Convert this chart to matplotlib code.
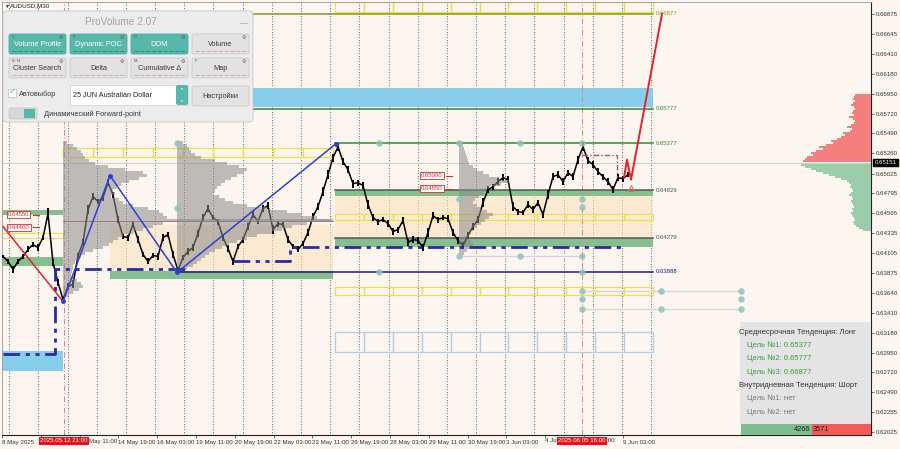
import numpy as np
import matplotlib.pyplot as plt
from matplotlib.patches import FancyBboxPatch, Rectangle
from matplotlib.transforms import blended_transform_factory

plt.rcParams['font.family'] = ['Liberation Sans', 'DejaVu Sans']

# котировки AUDUSD M30 (шаг 5 единиц по оси времени)
price = [0.64064, 0.64006, 0.63913, 0.64006, 0.64064, 0.64145, 0.64202, 0.64168, 0.64283, 0.64561,
         0.63994, 0.63763, 0.63566, 0.63716, 0.63740, 0.64075, 0.64226, 0.64607, 0.64758, 0.64700,
         0.64746, 0.64920, 0.64781, 0.64492, 0.64295, 0.64283, 0.64434, 0.64260, 0.64087, 0.64006,
         0.64075, 0.64064, 0.64283, 0.64318, 0.64087, 0.63902, 0.64052, 0.64121, 0.64168, 0.64330,
         0.64515, 0.64619, 0.64515, 0.64469, 0.64283, 0.64156, 0.64006, 0.64179, 0.64260, 0.64411,
         0.64549, 0.64469, 0.64619, 0.64654, 0.64376, 0.64445, 0.64434, 0.64260, 0.64179, 0.64145,
         0.64214, 0.64341, 0.64526, 0.64642, 0.64816, 0.65012, 0.65209, 0.65336, 0.65163, 0.65070,
         0.64908, 0.64920, 0.64885, 0.64665, 0.64515, 0.64469, 0.64492, 0.64445, 0.64353, 0.64376,
         0.64480, 0.64226, 0.64260, 0.64249, 0.64168, 0.64341, 0.64538, 0.64492, 0.64515, 0.64503,
         0.64341, 0.64249, 0.64191, 0.64307, 0.64411, 0.64492, 0.64688, 0.64839, 0.64873, 0.64931,
         0.64978, 0.64954, 0.64642, 0.64584, 0.64573, 0.64665, 0.64607, 0.64688, 0.64549, 0.64781,
         0.64989, 0.65012, 0.64931, 0.65035, 0.64989, 0.65186, 0.65336, 0.65174, 0.65128, 0.65047,
         0.64989, 0.64931, 0.64839, 0.64978, 0.64966, 0.65012]
# размах свечей в пунктах (1e-5)
bar_range = [45, 60, 90, 55, 50, 70, 60, 75, 55, 140, 80, 90, 70, 85, 95, 60, 70, 110, 80, 65,
             75, 90, 70, 85, 60, 70, 65, 80, 55, 70, 60, 75, 80, 65, 90, 70, 60, 75, 80, 70,
             85, 75, 60, 70, 80, 75, 90, 65, 70, 80, 75, 65, 80, 85, 95, 70, 65, 75, 60, 70,
             65, 80, 90, 85, 100, 110, 95, 90, 85, 80, 95, 70, 75, 100, 80, 70, 65, 75, 80, 70,
             85, 90, 75, 70, 80, 95, 75, 70, 65, 80, 75, 70, 80, 85, 75, 90, 100, 80, 70, 75,
             80, 85, 110, 70, 65, 80, 75, 70, 90, 100, 80, 75, 85, 70, 80, 95, 110, 85, 75, 80,
             70, 85, 90, 75, 70, 60]
last_price = 0.65151

zigzag_x = [63, 110, 177, 336]
zigzag_p = [0.63543, 0.65001, 0.63878, 0.65371]
downtrend_x = [3, 63]
downtrend_p = [0.64411, 0.63543]
forecast_x = [624, 627, 631, 662]
forecast_p = [0.64978, 0.65186, 0.64954, 0.66877]

level_p = [0.66877, 0.65777, 0.65377, 0.64829, 0.64279, 0.63888]
level_txt = ['0.66877', '0.65777', '0.65377', '0.64829', '0.64279', '0.63888']
level_col = ['#7d9a1e', '#2f8a2f', '#2f8a2f', '#555555', '#555555', '#1d1d78']

# профили объёма (от 0.65382 вниз)
prof1 = [4, 10, 14, 18, 20, 22, 26, 32, 45, 62, 80, 84, 76, 66, 58, 54, 50, 52, 48, 56,
         60, 70, 85, 96, 100, 104, 268, 100, 90, 80, 70, 60, 55, 50, 46, 40, 30, 22, 18, 15,
         12, 10, 10, 9, 8, 10, 14, 18, 20, 16, 10, 6]
prof2 = [6, 10, 12, 14, 18, 24, 38, 50, 62, 70, 66, 60, 54, 48, 44, 40, 38, 36, 42, 48,
         56, 70, 90, 110, 125, 140, 156, 130, 115, 105, 95, 80, 70, 60, 52, 45, 38, 32, 28, 24,
         20, 16, 10]
prof3 = [3, 4, 5, 6, 7, 8, 9, 10, 14, 18, 24, 30, 40, 50, 42, 30, 26, 24, 20, 16,
         14, 18, 22, 28, 34, 30, 26, 22, 18, 14, 12, 10, 10, 12, 14, 12, 8, 5]
prof_top = 0.65382

# стакан (DOM) справа
dom_sell = [16, 17, 18, 16, 18, 20, 17, 16, 18, 19, 17, 22, 18, 16, 17, 20, 24, 19, 21, 28,
            26, 30, 34, 40, 38, 45, 52, 48, 55, 60, 58, 64, 66, 68]
dom_buy = [70, 66, 60, 55, 48, 42, 36, 30, 24, 22, 20, 21, 19, 18, 20, 22, 19, 18, 20, 19,
           18, 17, 19, 18, 20, 19, 18, 17, 16, 18, 17, 15, 12, 8]
dom_sell_top = 0.65938
dom_buy_top = 0.65151
buy_total, sell_total = 4266, 3571

dots_x = [177, 177, 379, 459, 520, 582, 459, 582, 582, 459, 520, 582, 379, 582,
          582, 582, 582, 661, 661, 741, 741, 741]
dots_p = [0.65382, 0.64630, 0.65382, 0.65382, 0.65382, 0.65382, 0.64735, 0.64735, 0.64642,
          0.64075, 0.64075, 0.64075, 0.63878, 0.63878, 0.63659, 0.63566, 0.63450, 0.63659,
          0.63450, 0.63659, 0.63566, 0.63450]

poc1_x = [3, 55, 55, 188]
poc1_p = [0.62930, 0.62930, 0.63913, 0.63913]
poc2_x = [233, 290, 290, 625]
poc2_p = [0.64006, 0.64006, 0.64168, 0.64168]

tags_x = [8, 8, 421, 421]
tags_p = [0.64550, 0.64400, 0.65000, 0.64850]

yticks = [0.66875, 0.66645, 0.66410, 0.66180, 0.65950, 0.65720, 0.65490, 0.65260, 0.65025,
          0.64795, 0.64565, 0.64335, 0.64105, 0.63875, 0.63640, 0.63410, 0.63180, 0.62950,
          0.62720, 0.62490, 0.62255, 0.62025]
# подписи времени; частично закрытые красными метками показаны обрывками
xlabels = ['8 May 2025', '', '', '14 May 19:00', '16 May 03:00',
           '19 May 11:00', '20 May 19:00', '22 May 03:00', '23 May 11:00', '26 May 19:00',
           '28 May 03:00', '29 May 11:00', '30 May 19:00', '3 Jun 03:00', '',
           '', '9 Jun 03:00']
xfragments = [('May 11:00', 89), ('4 Ju', 545), (':00', 606)]

BG = '#fdf6f0'
fig = plt.figure(figsize=(9, 4.49), dpi=100, facecolor=BG)
ax = fig.add_axes([2 / 900, 14 / 449, 869 / 900, 433 / 449])
ax.set_facecolor(BG)
ax.set_xlim(2, 871)
ax.set_ylim(0.61994, 0.67014)

# сетка по времени
for gx in 9.3 + 29.17 * np.arange(23):
    ax.axvline(gx, color='#333333', lw=0.6, ls=(0, (1, 2.2)), zorder=1)

def box(x0, x1, lo, hi, fc='none', ec='none', alpha=1.0, z=2, lw=0.8):
    ax.add_patch(Rectangle((x0, lo), x1 - x0, hi - lo, fc=fc, ec=ec, alpha=alpha, lw=lw, zorder=z))

GREEN = '#86bf8f'
TAN = '#fbe3bd'
SKY = '#87ceeb'
YEL = '#ece04a'

# зоны
box(335, 653, 0.64769, 0.64839, fc=GREEN, z=2)
box(335, 653, 0.64179, 0.64283, fc=GREEN, z=2)
box(335, 653, 0.64283, 0.64769, fc=TAN, alpha=0.6, z=1.5)
box(110, 333, 0.63797, 0.63890, fc=GREEN, z=2)
box(110, 333, 0.63890, 0.64434, fc=TAN, alpha=0.6, z=1.5)
box(2, 63, 0.64549, 0.64607, fc=GREEN, z=2)
box(2, 63, 0.63948, 0.64052, fc=GREEN, z=2)
box(2, 63, 0.64283, 0.64341, ec=YEL, z=2)
box(63, 653, 0.65799, 0.66019, fc=SKY, z=2)
box(2, 63, 0.62733, 0.62964, fc=SKY, z=2)

def cells(x0, x1, n, lo, hi, col):
    edges = np.linspace(x0, x1, n + 1)
    for a, b in zip(edges[:-1], edges[1:]):
        box(a, b, lo, hi, ec=col, z=2.5, lw=0.9)

cells(63, 333, 9, 0.65221, 0.65325, YEL)
cells(335, 653, 11, 0.64492, 0.64561, YEL)
cells(335, 653, 11, 0.66898, 0.67014, YEL)
cells(335, 653, 11, 0.63613, 0.63705, YEL)
cells(335, 653, 11, 0.62953, 0.63184, '#a9d2e4')

# уровни
level_x0 = [63, 63, 335, 335, 335, 177]
for x0, p, t, c in zip(level_x0, level_p, level_txt, level_col):
    ax.plot([x0, 653], [p, p], color=c, lw=1.1, zorder=3)
    ax.text(656, p, t, color=c, fontsize=4.3, va='center', ha='left', zorder=6)

ax.axhline(last_price, color='#c9c9c9', lw=0.6, zorder=1)
ax.plot([63, 333], [0.64470, 0.64470], color='#c04848', lw=0.6, zorder=3)
ax.plot([459, 582], [0.64075, 0.64075], color='#d6d6d6', lw=1, zorder=2)
ax.plot([582, 741], [0.63659, 0.63659], color='#d6d6d6', lw=1, zorder=2)
ax.plot([582, 741], [0.63450, 0.63450], color='#d6d6d6', lw=1, zorder=2)

for vx in [64, 582]:
    ax.axvline(vx, color='#d98a8a', lw=0.8, ls=(0, (5, 2, 1, 2)), zorder=2)

# цена
px = 3 + 5 * np.arange(len(price))
pr = np.array(price)
half = np.array(bar_range) * 1e-5 / 2
ax.plot(px, pr, color='black', lw=1.1, zorder=3.5)
ax.vlines(px, pr - half, pr + half, color='black', lw=1.4, zorder=3.5)

# профили
step = 0.000347
for anchor, prof in [(63, prof1), (177, prof2), (459, prof3)]:
    lv = prof_top - step * np.arange(len(prof))
    ax.barh(lv, prof, left=anchor, height=step, color='#8a8a8a', alpha=0.55, lw=0, zorder=4)

# стакан
dstep = 0.000231
lv = dom_sell_top - dstep * np.arange(len(dom_sell))
ax.barh(lv, -np.array(dom_sell), left=871, height=dstep, color='#f47f7f', lw=0, zorder=4)
lv = dom_buy_top - dstep * (1 + np.arange(len(dom_buy)))
ax.barh(lv, -np.array(dom_buy), left=871, height=dstep, color='#9ccdaa', lw=0, zorder=4)

# POC-линии
poc_style = dict(color='#2a2aa5', lw=2, ls=(0, (6, 2, 1.5, 2, 1.5, 2)), zorder=5)
ax.plot(poc1_x, poc1_p, **poc_style)
ax.plot(poc2_x, poc2_p, **poc_style)

# зигзаг и тренды
ax.plot(downtrend_x, downtrend_p, color='#e8202a', lw=1.1, zorder=5)
ax.plot(zigzag_x, zigzag_p, color='#2e3fd8', lw=1.1, zorder=5, marker='o', ms=2.5)
ax.plot(forecast_x, forecast_p, color='#e8202a', lw=1.4, zorder=5)
ax.plot([582, 617, 617], [0.65244, 0.65244, 0.64989], color='#a85a5a', lw=1,
        ls=(0, (4, 1.5, 1, 1.5)), zorder=5)
ax.plot([631], [0.64862], marker='^', ms=4, mfc='none', mec='#e86a6a', mew=0.8, zorder=5)

ax.scatter(dots_x, dots_p, s=22, color='#8fc2bf', alpha=0.85, lw=0, zorder=5)

for x, p in zip(tags_x, tags_p):
    ax.plot([x + 25, x + 31], [p, p], color='#d03030', lw=0.8, zorder=6)
    ax.text(x, p, f'{p:.5f}', color='#d03030', fontsize=4.3, va='center', ha='left', zorder=6,
            bbox=dict(boxstyle='square,pad=0.15', fc='white', ec='#d03030', lw=0.6))

# оси
for s in ['top', 'left']:
    ax.spines[s].set_color('#9a9a9a')
    ax.spines[s].set_linewidth(0.6)
for s in ['right', 'bottom']:
    ax.spines[s].set_color('#222222')
    ax.spines[s].set_linewidth(0.8)
ax.yaxis.tick_right()
ax.set_yticks(yticks)
ax.set_yticklabels([f'{v:.5f}' for v in yticks])
ax.tick_params(axis='y', length=2, width=0.5, pad=1.5, labelsize=4.4, colors='#333333')
ax.set_xticks(2 + 38.8 * np.arange(len(xlabels)))
ax.set_xticklabels(xlabels)
ax.tick_params(axis='x', length=2, width=0.5, pad=1.5, labelsize=4.4, colors='#333333')
for lab in ax.get_xticklabels():
    lab.set_ha('left')

tr = blended_transform_factory(ax.transAxes, ax.transData)
ax.text(1.004, last_price, f'{last_price:.5f}', transform=tr, color='white', fontsize=4.4,
        va='center', ha='left', zorder=8, clip_on=False,
        bbox=dict(boxstyle='square,pad=0.2', fc='black', ec='black'))

# интерфейс поверх графика (пиксели)
ui = fig.add_axes([0, 0, 1, 1])
ui.set_xlim(0, 900)
ui.set_ylim(449, 0)
ui.axis('off')
ui.patch.set_alpha(0)

def rbox(x, y, w, h, fc, ec='none', r=2, lw=0.6, z=1, alpha=1):
    ui.add_patch(FancyBboxPatch((x, y), w, h, boxstyle=f'round,pad=0,rounding_size={r}',
                                fc=fc, ec=ec, lw=lw, zorder=z, alpha=alpha))

ui.text(4, 6, '▼', fontsize=3.5, color='#333', va='center')
ui.text(10, 6, 'AUDUSD,M30', fontsize=4.5, color='#222', va='center')

rbox(3, 11, 250, 111, '#ececec', '#c6c6c6', r=4)
ui.text(121, 22, 'ProVolume 2.07', fontsize=7.3, color='#a3a3a3', ha='center', va='center', zorder=3)
ui.text(244, 24, '—', fontsize=6, color='#8a8a8a', ha='center', va='center', zorder=3)

TEAL = '#56b7ab'
buttons = [('Volume Profile', True), ('Dynamic POC', True), ('DOM', True), ('Volume', False),
           ('Cluster Search', False), ('Delta', False), ('Cumulative Δ', False), ('Map', False)]
tags = ['V', 'P', 'D', '', 'B  N', '', 'M', 'F']
for i, (name, on) in enumerate(buttons):
    bx = 9 + 61 * (i % 4)
    by = 34 + 24 * (i // 4)
    rbox(bx, by, 57, 20, TEAL if on else '#e2e2e2', '#4fa99e' if on else '#c9c9c9', z=2)
    ui.text(bx + 28.5, by + 11, name, fontsize=5.3, color='white' if on else '#3a3a3a',
            ha='center', va='center', zorder=3)
    ui.text(bx + 52, by + 3.5, '⚙', fontsize=3.5, color='#555', ha='center', va='center', zorder=3)
    if tags[i]:
        ui.text(bx + 3, by + 3.5, tags[i], fontsize=3, color='#555', va='center', zorder=3)
    ui.plot([bx + 3, bx + 54], [by + 17, by + 17], color='#2f7f76' if on else '#d9a0a0',
            lw=0.6, ls=(0, (5, 2)), zorder=3)

ui.add_patch(Rectangle((8, 89), 8, 8, fc='white', ec='#b8b8b8', lw=0.5, zorder=2))
ui.text(9, 92.5, '✓', fontsize=6, color=TEAL, va='center', zorder=3)
ui.text(19, 94, 'Автовыбор', fontsize=5.3, color='#3a3a3a', va='center', zorder=3)
ui.add_patch(Rectangle((70, 85), 118, 20, fc='white', ec='#cccccc', lw=0.5, zorder=2))
ui.text(73, 95.5, '25 JUN Australian Dollar', fontsize=5.2, color='#222', va='center', zorder=3)
rbox(176, 85, 12, 20, TEAL, z=3)
ui.text(182, 91, '⌃', fontsize=5, color='white', ha='center', va='center', zorder=4)
ui.text(182, 100, '⌄', fontsize=5, color='white', ha='center', va='center', zorder=4)
rbox(192, 86, 57, 20, '#e2e2e2', '#c9c9c9', z=2)
ui.text(220.5, 96.5, 'Настройки', fontsize=5.3, color='#3a3a3a', ha='center', va='center', zorder=3)
rbox(9, 108, 28, 11, '#d8d8d8', '#c6c6c6', z=2)
ui.add_patch(Rectangle((24, 109), 11, 9, fc=TEAL, lw=0, zorder=3))
ui.text(44, 114, 'Динамический Forward-point', fontsize=5.3, color='#3a3a3a', va='center', zorder=3)

# блок тенденций
ui.add_patch(Rectangle((740, 322), 131, 102, fc='#e4e4e4', ec='none', alpha=0.95, zorder=2))
info = [('Среднесрочная Тенденция: Лонг', '#333333', 739),
        ('Цель №1: 0.65377', '#3b9a3b', 747), ('Цель №2: 0.65777', '#3b9a3b', 747),
        ('Цель №3: 0.66877', '#3b9a3b', 747),
        ('Внутридневная Тенденция: Шорт', '#333333', 739),
        ('Цель №1: нет', '#777777', 747), ('Цель №2: нет', '#777777', 747)]
for k, (t, c, tx) in enumerate(info):
    ui.text(tx, 332 + 13.3 * k, t, fontsize=5.5, color=c, va='center', zorder=3)

split = 741 + 130 * buy_total / (buy_total + sell_total)
ui.add_patch(Rectangle((741, 424), split - 741, 11, fc='#7dbd8e', lw=0, zorder=3))
ui.add_patch(Rectangle((split, 424), 871 - split, 11, fc='#f45a5a', lw=0, zorder=3))
ui.text(split - 1, 429.5, str(buy_total), fontsize=5.3, color='#222', ha='right', va='center', zorder=4)
ui.text(split + 1, 429.5, str(sell_total), fontsize=5.3, color='#222', ha='left', va='center', zorder=4)

# подсвеченные даты и обрывки подписей
for t, x in xfragments:
    ui.text(x, 441, t, fontsize=4.4, color='#333333', va='center', ha='left', zorder=4)
for t, x in [('2025.05.12 21:00', 40), ('2025.06.05 16:00', 558)]:
    ui.text(x, 441, t, fontsize=4.4, color='white', va='center', ha='left', zorder=5,
            bbox=dict(boxstyle='square,pad=0.2', fc='#e8101a', ec='none'))

fig.savefig('out.png', dpi=100, facecolor=BG)
